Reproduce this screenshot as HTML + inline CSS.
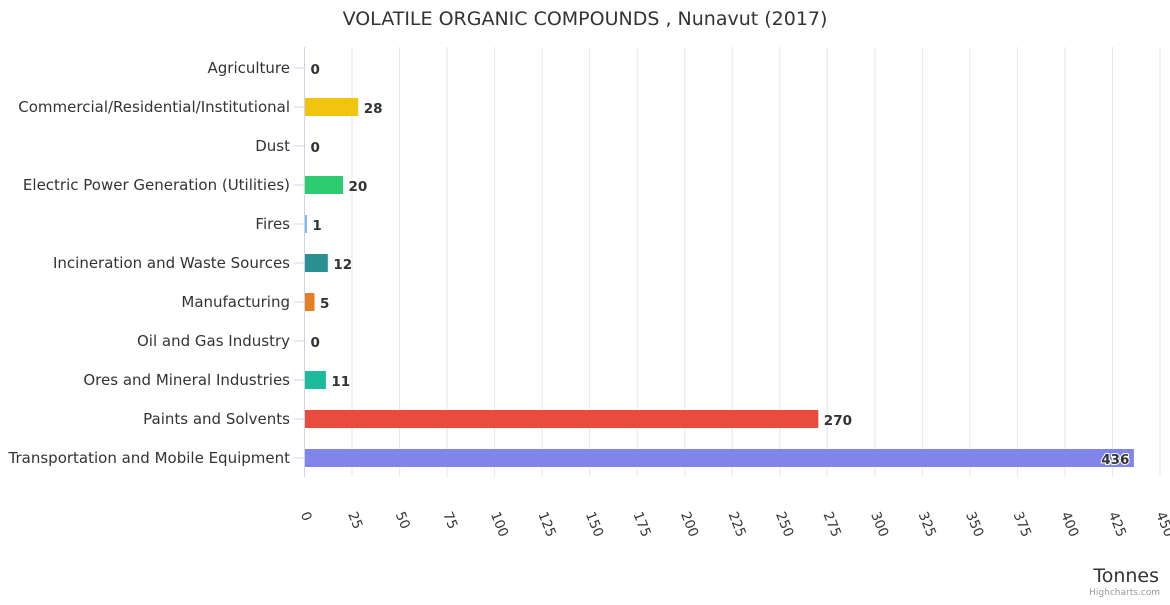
<!DOCTYPE html>
<html><head><meta charset="utf-8"><style>
body{margin:0;background:#fff;font-family:"Liberation Sans","DejaVu Sans",sans-serif;}
svg text{font-family:"DejaVu Sans","Liberation Sans",sans-serif;}
</style></head><body>
<svg id="chart" width="1170" height="600" xmlns="http://www.w3.org/2000/svg">
<rect width="1170" height="600" fill="#fff"/>
<text x="585" y="25" text-anchor="middle" font-size="19" fill="#333">VOLATILE ORGANIC COMPOUNDS , Nunavut (2017)</text>
<g id="grid"></g><g id="bars"></g><g id="ylabels"></g><g id="xlabels"></g>
<text x="1159" y="582" text-anchor="end" font-size="19" fill="#333">Tonnes</text>
<text x="1160" y="595" text-anchor="end" font-size="9" fill="#999">Highcharts.com</text>
</svg>
<script>
const categories=["Agriculture","Commercial/Residential/Institutional","Dust","Electric Power Generation (Utilities)","Fires","Incineration and Waste Sources","Manufacturing","Oil and Gas Industry","Ores and Mineral Industries","Paints and Solvents","Transportation and Mobile Equipment"];
const values=[0,28,0,20,1,12,5,0,11,270,436];
const colors=["#7cb5ec","#f1c40f","#7cb5ec","#2ecc71","#7cb5ec","#2a9090","#e67e22","#7cb5ec","#1abc9c","#e74c3c","#8085e9"];
const ticks=[0,25,50,75,100,125,150,175,200,225,250,275,300,325,350,375,400,425,450];
const NS="http://www.w3.org/2000/svg";
const x0=304.5,x1=1160,rowH=39;
const xs=v=>x0+v/450*(x1-x0);
const yc=i=>68+i*rowH;
function mk(t,a,p){const e=document.createElementNS(NS,t);for(const k in a)e.setAttribute(k,a[k]);p.appendChild(e);return e;}
const grid=document.getElementById('grid'),bars=document.getElementById('bars'),yl=document.getElementById('ylabels'),xl=document.getElementById('xlabels');
ticks.forEach(t=>{
  const l=mk('line',{x1:xs(t),x2:xs(t),y1:47,y2:477,stroke:t===0?'#ccd6eb':'#e6e6e6','stroke-width':1},grid);
  
  
  const x=xs(t)-4,y=514;
  const tx=mk('text',{x:x,y:y,'font-size':13.5,fill:'#333',transform:`rotate(68 ${x} ${y})`},xl);
  tx.textContent=t;
  
  
});
categories.forEach((c,i)=>{
  const y=yc(i);
  const tk=mk('line',{x1:294,x2:304,y1:y,y2:y,stroke:'#ccd6eb'},grid);
  
  
  const lab=mk('text',{x:290,y:y+5,'text-anchor':'end','font-size':15,fill:'#333'},yl);
  lab.textContent=c;
  
  
  const w=xs(values[i])-x0;
  const r=mk('rect',{x:x0+0.5,y:y-9,width:Math.max(0,w),height:18,fill:colors[i]},bars);
  
  
  const inside=values[i]>400;
  const v=mk('text',{x:inside?xs(values[i])-4:xs(values[i])+6,y:y+6,'text-anchor':inside?'end':'start','font-size':13.5,'font-weight':'bold',fill:'#333',stroke:inside?'#fff':'none','stroke-width':inside?2:0,'paint-order':'stroke'},bars);
  v.textContent=values[i];
  
  
});
</script>
</body></html>
